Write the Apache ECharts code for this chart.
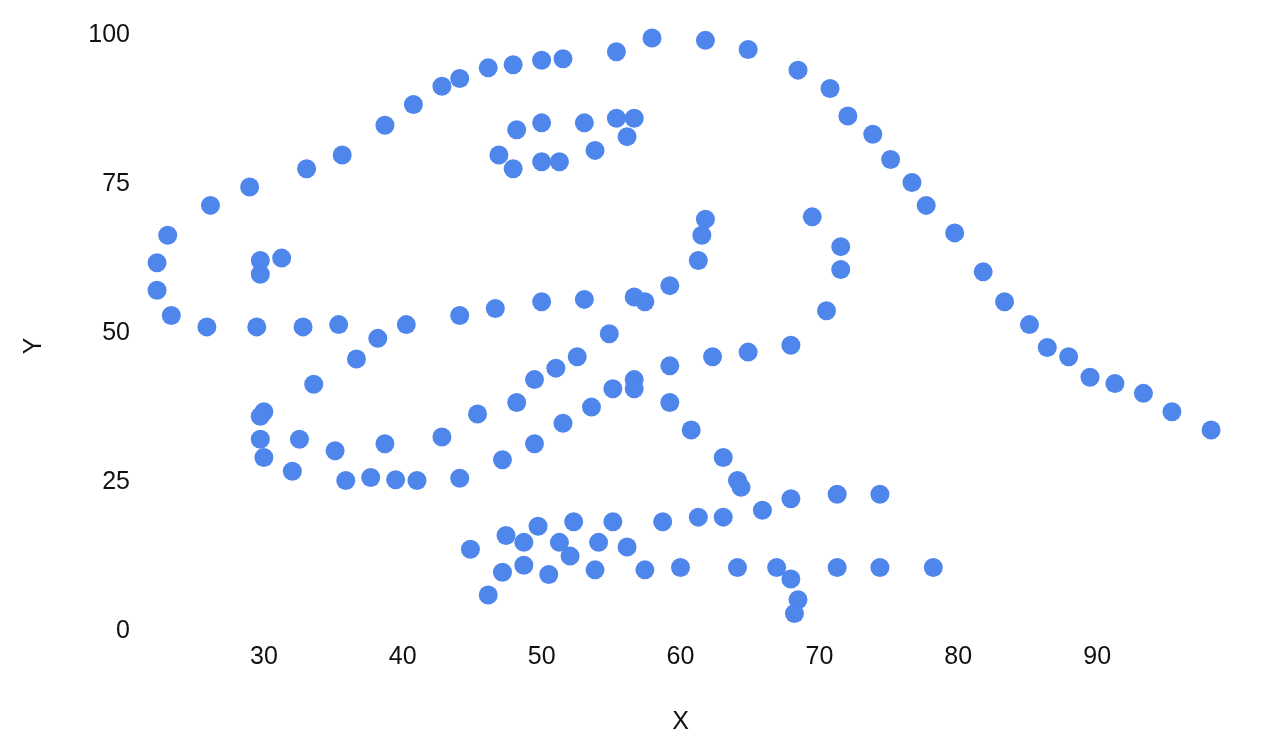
<!DOCTYPE html>
<html>
<head>
<meta charset="utf-8">
<script src="https://cdn.jsdelivr.net/npm/echarts@6/dist/echarts.min.js"></script>
<style>html,body{margin:0;padding:0;background:#fff}#c{width:1268px;height:750px}</style>
</head>
<body>
<div id="c"></div>
<script>
var xValues = [55.3846,51.5385,46.1538,42.8205,40.7692,38.7179,35.6410,33.0769,28.9744,26.1538,23.0769,22.3077,22.3077,23.3333,25.8974,29.4872,32.8205,35.3846,40.2564,44.1026,46.6667,50.0000,53.0769,56.6667,59.2308,61.2821,61.5385,61.7949,57.4359,54.8718,52.5641,48.2051,49.4872,51.0256,45.3846,42.8205,38.7179,35.1282,32.5641,30.0000,33.5897,36.6667,38.2051,29.7436,29.7436,30.0000,32.0513,35.8974,41.0256,44.1026,47.1795,49.4872,51.5385,53.5897,55.1282,56.6667,59.2308,62.3077,64.8718,67.9487,70.5128,71.5385,71.5385,69.4872,46.9231,48.2051,50.0000,53.0769,55.3846,56.6667,56.1538,53.8462,51.2821,50.0000,47.9487,29.7436,29.7436,31.2821,57.9487,61.7949,64.8718,68.4615,70.7692,72.0513,73.8462,75.1282,76.6667,77.6923,79.7436,81.7949,83.3333,85.1282,86.4103,87.9487,89.4872,93.3333,95.3846,98.2051,56.6667,59.2308,60.7692,63.0769,64.1026,64.3590,74.3590,71.2821,67.9487,65.8974,63.0769,61.2821,58.7179,55.1282,52.3077,49.7436,47.4359,44.8718,48.7179,51.2821,54.1026,56.1538,52.0513,48.7179,47.1795,46.1538,50.5128,53.8462,57.4359,60.0000,64.1026,66.9231,71.2821,74.3590,78.2051,67.9487,68.4615,68.2051,37.6923,39.4872,91.2821,50.0000,47.9487,44.1026];
var yValues = [97.1795,96.0256,94.4872,91.4103,88.3333,84.8718,79.8718,77.5641,74.4872,71.4103,66.4103,61.7949,57.1795,52.9487,51.0256,51.0256,51.0256,51.4103,51.4103,52.9487,54.1026,55.2564,55.6410,56.0256,57.9487,62.1795,66.4103,69.1026,55.2564,49.8718,46.0256,38.3333,42.1795,44.1026,36.4103,32.5641,31.4103,30.2564,32.1795,36.7949,41.4103,45.6410,49.1026,36.0256,32.1795,29.1026,26.7949,25.2564,25.2564,25.6410,28.7180,31.4103,34.8718,37.5641,40.6410,42.1795,44.4872,46.0256,46.7949,47.9487,53.7180,60.6410,64.4872,69.4872,79.8718,84.1026,85.2564,85.2564,86.0256,86.0256,82.9487,80.6410,78.7180,78.7180,77.5641,59.8718,62.1795,62.5641,99.4872,99.1026,97.5641,94.1026,91.0256,86.4103,83.3333,79.1026,75.2564,71.4103,66.7949,60.2564,55.2564,51.4103,47.5641,46.0256,42.5641,39.8718,36.7949,33.7180,40.6410,38.3333,33.7180,29.1026,25.2564,24.1026,22.9487,22.9487,22.1795,20.2564,19.1026,19.1026,18.3333,18.3333,18.3333,17.5641,16.0256,13.7180,14.8718,14.8718,14.8718,14.1026,12.5641,11.0256,9.8718,6.0256,9.4872,10.2564,10.2564,10.6410,10.6410,10.6410,10.6410,10.6410,10.6410,8.7180,5.2564,2.9487,25.7692,25.3846,41.5385,95.7692,95.0000,92.6923];
var xTitle = 'X';
var yTitle = 'Y';

var points = xValues.map(function (x, i) { return [x, yValues[i]]; });
var font = '"Liberation Sans", Arial, sans-serif';
var textColor = '#111';
var chart = echarts.init(document.getElementById('c'));
chart.setOption({
  animation: false,
  backgroundColor: '#ffffff',
  grid: { left: 125, right: 32, top: 35, bottom: 119, containLabel: false },
  xAxis: {
    type: 'value', min: 20, max: 100, interval: 10,
    name: xTitle, nameLocation: 'middle', nameGap: 79,
    nameTextStyle: { fontSize: 25, color: textColor, fontFamily: font },
    axisLine: { show: false }, axisTick: { show: false }, splitLine: { show: false },
    axisLabel: { fontSize: 25, color: textColor, fontFamily: font, margin: 14, showMinLabel: false, showMaxLabel: false }
  },
  yAxis: {
    type: 'value', min: 0, max: 100, interval: 25,
    axisLine: { show: false }, axisTick: { show: false }, splitLine: { show: false },
    axisLabel: { fontSize: 25, color: textColor, fontFamily: font, margin: -5 }
  },
  graphic: [{
    type: 'text', x: 34, y: 346, rotation: Math.PI / 2,
    style: { text: yTitle, fontSize: 25, fill: textColor, font: '25px ' + font, textAlign: 'center', textVerticalAlign: 'middle' }
  }],
  series: [{
    type: 'scatter', data: points, symbolSize: 19,
    itemStyle: { color: '#4f86ec', opacity: 1 }
  }]
});
</script>
</body>
</html>
